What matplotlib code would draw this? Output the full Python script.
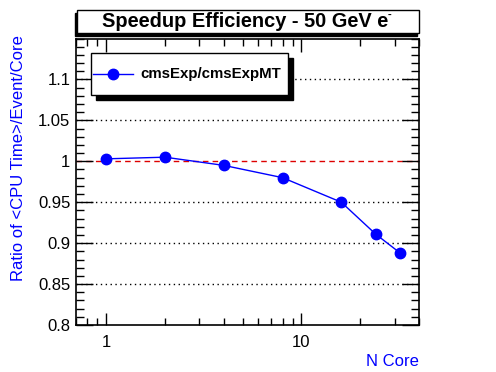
import matplotlib
matplotlib.use('Agg')
import matplotlib.pyplot as plt
from matplotlib.patches import Rectangle
from matplotlib.ticker import LogLocator, NullFormatter, FixedLocator, FixedFormatter, MultipleLocator
import numpy as np

# data
n_core = [1, 2, 4, 8, 16, 24, 32]
ratio = [1.003, 1.005, 0.995, 0.980, 0.950, 0.911, 0.888]
grid_y = [0.85, 0.9, 0.95, 1.05, 1.1]
y_ticks = [0.8, 0.85, 0.9, 0.95, 1.0, 1.05, 1.1]
y_labels = ['0.8', '0.85', '0.9', '0.95', '1', '1.05', '1.1']
x_ticks = [1, 10]
x_labels = ['1', '10']

plt.rcParams['font.family'] = ['Liberation Sans', 'DejaVu Sans']

W, H = 496, 372
fig = plt.figure(figsize=(W / 100, H / 100), dpi=100)

def fx(px):
    return px / W

def fy(py):
    return 1 - py / H

L, R, T, B = 76, 419, 38.5, 325
ax = fig.add_axes([fx(L), fy(B), fx(R) - fx(L), fy(T) - fy(B)])

ax.set_xscale('log')
ax.set_xlim(0.7, 40)
ax.set_ylim(0.8, 1.15)

for g in grid_y:
    ax.axhline(g, color='black', lw=1, ls=(0, (1, 2.5)), zorder=1)
ax.axhline(1.0, color='#dd0000', lw=1, ls=(0, (4, 3)), zorder=1)

ax.plot(n_core, ratio, color='blue', lw=1, marker='o', ms=7.5,
        mfc='blue', mec='blue', zorder=3)

ax.yaxis.set_major_locator(FixedLocator(y_ticks))
ax.yaxis.set_major_formatter(FixedFormatter(y_labels))
ax.yaxis.set_minor_locator(MultipleLocator(0.01))
ax.xaxis.set_major_locator(FixedLocator(x_ticks))
ax.xaxis.set_major_formatter(FixedFormatter(x_labels))
ax.xaxis.set_minor_locator(LogLocator(base=10, subs=np.arange(2, 10)))
ax.xaxis.set_minor_formatter(NullFormatter())

ax.tick_params(which='both', direction='in', top=True, right=True,
               labelsize=12, width=1)
ax.tick_params(axis='y', which='major', length=12, pad=4)
ax.tick_params(axis='y', which='minor', length=6)
ax.tick_params(axis='x', which='major', length=9, pad=7)
ax.tick_params(axis='x', which='minor', length=5)
for s in ax.spines.values():
    s.set_linewidth(1.2)

# axis titles
fig.text(fx(419), fy(362), 'N Core', color='blue', fontsize=12,
         ha='right', va='center')
fig.text(fx(18.5), fy(35), 'Ratio of <CPU Time>/Event/Core', color='blue',
         fontsize=12, rotation=90, ha='center', va='top')

# title box with shadow
fig.patches.append(Rectangle((fx(74.5), fy(36)), fx(419) - fx(77), fy(10) - fy(33),
                             transform=fig.transFigure, facecolor='black',
                             edgecolor='black', zorder=4))
fig.patches.append(Rectangle((fx(77), fy(33)), fx(419) - fx(77), fy(10) - fy(33),
                             transform=fig.transFigure, facecolor='white',
                             edgecolor='black', lw=1, zorder=5))
fig.text(fx(102), fy(21.5), 'Speedup Efficiency - 50 GeV e',
         fontsize=14.4, fontweight='bold', ha='left', va='center', zorder=6)
fig.text(fx(388), fy(15), '-', fontsize=8, fontweight='bold',
         ha='left', va='center', zorder=6)

# legend box with shadow
fig.patches.append(Rectangle((fx(96), fy(100)), fx(288) - fx(91), fy(53) - fy(95),
                             transform=fig.transFigure, facecolor='black',
                             edgecolor='black', zorder=4))
fig.patches.append(Rectangle((fx(91), fy(95)), fx(288) - fx(91), fy(53) - fy(95),
                             transform=fig.transFigure, facecolor='white',
                             edgecolor='black', lw=1, zorder=5))
fig.lines.append(plt.Line2D([fx(93), fx(133)], [fy(74), fy(74)], color='blue', lw=1,
                            transform=fig.transFigure, zorder=6))
fig.lines.append(plt.Line2D([fx(113)], [fy(74)], color='blue', marker='o', ms=7.5,
                            transform=fig.transFigure, zorder=6))
fig.text(fx(140), fy(74), 'cmsExp/cmsExpMT', fontsize=10.8, fontweight='bold',
         ha='left', va='center', zorder=6)

fig.savefig('out.png', dpi=100)
